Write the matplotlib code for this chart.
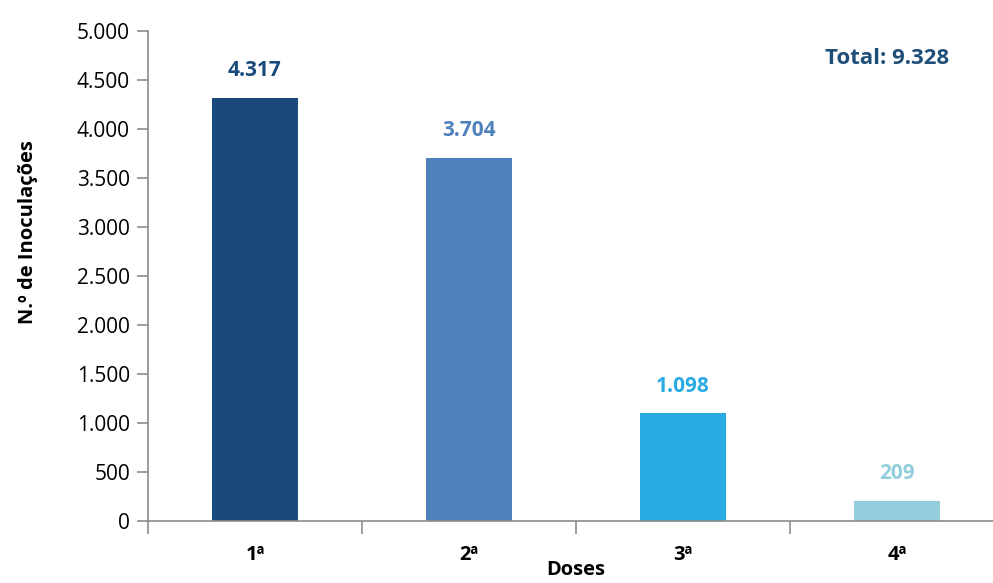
import matplotlib.pyplot as plt
from matplotlib.ticker import FuncFormatter, FixedLocator

plt.rcParams['font.family'] = ['Open Sans', 'DejaVu Sans']

doses = ['1ª', '2ª', '3ª', '4ª']
inoculacoes = [4317, 3704, 1098, 209]
cores = ['#1A4A7C', '#4F81BD', '#29ABE2', '#92CDDC']
total = sum(inoculacoes)


def milhares(v):
    return f'{int(v):,}'.replace(',', '.')


fig = plt.figure(figsize=(9.93, 5.83), dpi=100)
ax = fig.add_axes([0.149, 0.1063, 0.862, 0.8405])

x = list(range(len(doses)))
ax.bar(x, inoculacoes, width=0.4, color=cores)
for xi, v, c in zip(x, inoculacoes, cores):
    ax.annotate(milhares(v), (xi, v), xytext=(0, 12), textcoords='offset points',
                ha='center', va='bottom', fontsize=15, fontweight='bold', color=c)

ax.set_xlim(-0.5, 3.5)
ax.set_ylim(0, 5000)
ax.set_yticks(range(0, 5001, 500))
ax.yaxis.set_major_formatter(FuncFormatter(lambda v, p: milhares(v)))
ax.set_xticks(x)
ax.set_xticklabels(doses, fontweight='bold', fontsize=14.5)
ax.xaxis.set_minor_locator(FixedLocator([-0.5, 0.5, 1.5, 2.5]))
ax.tick_params(axis='x', which='major', length=0, pad=17)
ax.tick_params(axis='x', which='minor', length=9, color='#8c8c8c', width=1.2)
ax.tick_params(axis='y', length=8, color='#8c8c8c', width=1.2, labelsize=15, pad=5)

for s in ['top', 'right']:
    ax.spines[s].set_visible(False)
for s in ['left', 'bottom']:
    ax.spines[s].set_color('#8c8c8c')
    ax.spines[s].set_linewidth(1.2)

ax.set_ylabel('N.º de Inoculações', fontsize=14.5, fontweight='bold')
ax.yaxis.set_label_coords(-0.128, 0.59)
ax.set_xlabel('Doses', fontsize=14.5, fontweight='bold', labelpad=-3)

fig.text(0.893, 0.9, f'Total: {milhares(total)}', ha='center', va='center',
         fontsize=16, fontweight='bold', color='#1F4E79')

fig.savefig('out.png', dpi=100)
